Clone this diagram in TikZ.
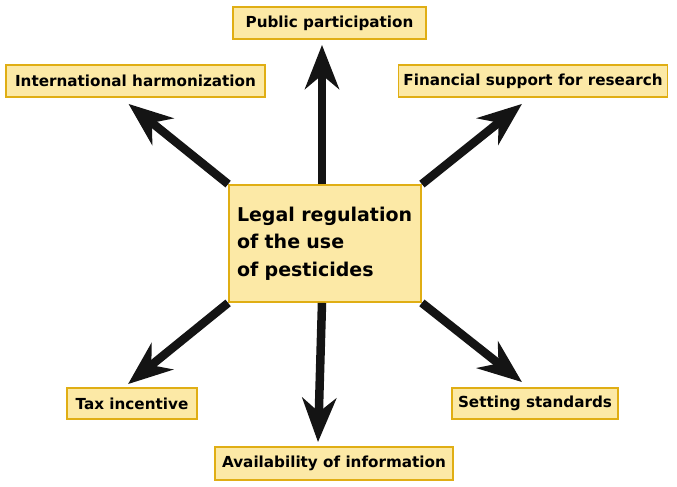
\documentclass[tikz,border=0pt]{standalone}
\usepackage{fontspec}
\setmainfont{DejaVu Sans}
\usetikzlibrary{arrows.meta}
\definecolor{boxfill}{HTML}{FCE9A6}
\definecolor{boxline}{HTML}{E0AE14}
\begin{document}
\begin{tikzpicture}[x=1pt, y=-1pt,
    box/.style={rectangle, draw=boxline, fill=boxfill, line width=1.8pt, inner sep=0pt, font=\bfseries\fontsize{15.2}{18}\selectfont},
    main/.style={box, minimum width=192pt, minimum height=117pt, text width=176pt, inner xsep=8pt, align=left, font=\bfseries\fontsize{19}{27.5}\selectfont},
    arrow/.style={-{Stealth[length=44pt, width=34pt, inset=14pt]}, line width=8.5pt, draw=black!92}
]
    \useasboundingbox (0,0) rectangle (677,487);

    % Centre box
    \node[main] (legal) at (325,243.5) {Legal regulation\\of the use\\of pesticides};

    % Surrounding measures
    \node[box, minimum width=193pt, minimum height=32pt] (public) at (329.5,23) {Public participation};
    \node[box, minimum width=259pt, minimum height=32pt] (intl) at (135.5,81) {International harmonization};
    \node[box, minimum width=269pt, minimum height=32pt] (fin) at (533,81) {Financial support for research};
    \node[box, minimum width=130pt, minimum height=31pt] (tax) at (132,403.5) {Tax incentive};
    \node[box, minimum width=166pt, minimum height=31pt] (std) at (535,403.5) {Setting standards};
    \node[box, minimum width=238pt, minimum height=33pt] (avail) at (334,463.5) {Availability of information};

    % Arrows
    \draw[arrow] ([xshift=-3pt]legal.north) -- ([xshift=-7.5pt, yshift=-5pt]public.south);
    \draw[arrow] (legal.north west) -- ([xshift=-7pt, yshift=-6pt]intl.south);
    \draw[arrow] (legal.north east) -- ([xshift=-11pt, yshift=-6pt]fin.south);
    \draw[arrow] (legal.south west) -- ([xshift=-4pt, yshift=3pt]tax.north);
    \draw[arrow] (legal.south east) -- ([xshift=-13pt, yshift=5pt]std.north);
    \draw[arrow] ([xshift=-3pt]legal.south) -- ([xshift=-16pt, yshift=4pt]avail.north);
\end{tikzpicture}
\end{document}
